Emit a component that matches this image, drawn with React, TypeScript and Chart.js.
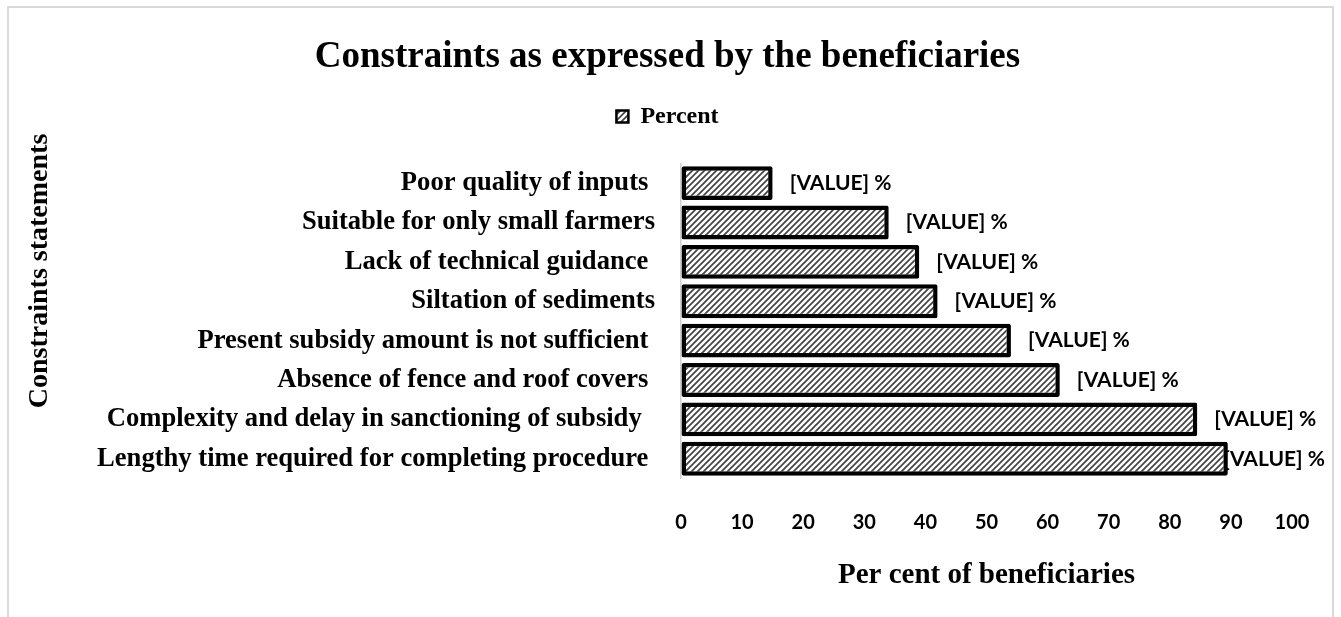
import React, { useEffect, useRef } from 'react';
import { Chart, registerables } from 'chart.js';

Chart.register(...registerables);

const categories: string[] = [
  'Poor quality of inputs ',
  'Suitable for only small farmers',
  'Lack of technical guidance ',
  'Siltation of sediments',
  'Present subsidy amount is not sufficient ',
  'Absence of fence and roof covers ',
  'Complexity and delay in sanctioning of subsidy  ',
  'Lengthy time required for completing procedure ',
];
const percentValues: number[] = [15, 34, 39, 42, 54, 62, 84.5, 89.5];
const seriesLabel = 'Percent';
const dataLabelText = '[VALUE] %';
const chartTitle = 'Constraints as expressed by the beneficiaries';
const xAxisTitle = 'Per cent of beneficiaries';
const yAxisTitle = 'Constraints statements';
const xMin = 0;
const xMax = 100;
const xStep = 10;

const SERIF = "'Liberation Serif', 'Times New Roman', serif";
const SANS = "Lato, 'Open Sans', sans-serif";

function makeHatch(): CanvasPattern | string {
  const c = document.createElement('canvas');
  c.width = 6;
  c.height = 6;
  const g = c.getContext('2d');
  if (!g) return '#888';
  g.fillStyle = '#ffffff';
  g.fillRect(0, 0, 6, 6);
  g.strokeStyle = '#444444';
  g.lineWidth = 1.7;
  g.beginPath();
  g.moveTo(-1, 7);
  g.lineTo(7, -1);
  g.moveTo(-1, 1);
  g.lineTo(1, -1);
  g.moveTo(5, 7);
  g.lineTo(7, 5);
  g.stroke();
  const p = g.createPattern(c, 'repeat');
  return p || '#888';
}

const dataLabelPlugin = {
  id: 'dataLabelPlugin',
  afterDatasetsDraw(chart: any) {
    const ctx = chart.ctx;
    const meta = chart.getDatasetMeta(0);
    ctx.save();
    ctx.font = `bold 21px ${SANS}`;
    ctx.fillStyle = '#000';
    ctx.textAlign = 'left';
    ctx.textBaseline = 'middle';
    const w = ctx.measureText(dataLabelText).width;
    meta.data.forEach((bar: any) => {
      let x = bar.x + 17;
      const limit = chart.width - 7;
      if (x + w > limit) x = limit - w;
      ctx.fillText(dataLabelText, x, bar.y);
    });
    ctx.restore();
  },
};

const yTitlePlugin = {
  id: 'yTitlePlugin',
  afterDraw(chart: any) {
    const ctx = chart.ctx;
    const area = chart.chartArea;
    ctx.save();
    ctx.translate(31, (area.top + area.bottom) / 2 - 50);
    ctx.rotate(-Math.PI / 2);
    ctx.font = `bold 28px ${SERIF}`;
    ctx.fillStyle = '#000';
    ctx.textAlign = 'center';
    ctx.textBaseline = 'middle';
    ctx.fillText(yAxisTitle, 0, 0);
    ctx.restore();
  },
};

export default function App() {
  const ref = useRef<HTMLCanvasElement | null>(null);

  useEffect(() => {
    if (!ref.current) return;
    const hatch = makeHatch();
    Chart.defaults.color = '#000';
    const chart = new Chart(ref.current, {
      type: 'bar',
      data: {
        labels: categories,
        datasets: [
          {
            label: seriesLabel,
            data: percentValues,
            backgroundColor: hatch as any,
            borderColor: '#000',
            borderWidth: 4.5,
            borderRadius: 2,
            borderSkipped: false,
            categoryPercentage: 1,
            barPercentage: 0.86,
          },
        ],
      },
      options: {
        indexAxis: 'y',
        animation: false,
        responsive: false,
        devicePixelRatio: 1,
        layout: { padding: { left: 34, right: 40, top: 0, bottom: 0 } },
        plugins: {
          title: {
            display: true,
            text: chartTitle,
            color: '#000',
            font: { family: SERIF, size: 37, weight: 'bold' },
            padding: { top: 27, bottom: 15 },
          },
          legend: {
            display: true,
            position: 'top',
            labels: {
              color: '#000',
              font: { family: SERIF, size: 24, weight: 'bold' },
              boxWidth: 12,
              boxHeight: 12,
              padding: 10,
              generateLabels: () => [
                {
                  text: seriesLabel,
                  fillStyle: hatch,
                  strokeStyle: '#000',
                  lineWidth: 2.5,
                  datasetIndex: 0,
                  hidden: false,
                },
              ],
            },
          },
          subtitle: {
            display: true,
            text: ' ',
            weight: 500,
            font: { size: 10, lineHeight: 1 },
            padding: { top: 15, bottom: 0 },
          } as any,
          tooltip: { enabled: false },
        },
        scales: {
          x: {
            min: xMin,
            max: xMax,
            ticks: {
              stepSize: xStep,
              color: '#000',
              padding: 0,
              maxRotation: 0,
              minRotation: 0,
              font: { family: SANS, size: 20, weight: 'bold' },
            },
            grid: {
              display: true,
              drawOnChartArea: false,
              drawTicks: true,
              tickLength: 32.5,
              color: 'rgba(0,0,0,0)',
            },
            border: { display: false },
            title: {
              display: true,
              text: xAxisTitle,
              color: '#000',
              font: { family: SERIF, size: 29, weight: 'bold' },
              padding: { top: 23.6, bottom: 23.6 },
            },
            afterFit: (scale: any) => {
              scale.height = 138.5;
            },
          },
          y: {
            ticks: {
              color: '#000',
              padding: 26,
              font: { family: SERIF, size: 26.6, weight: 'bold' },
            },
            grid: { display: false, drawTicks: false },
            border: { display: true, color: '#d0d0d0', width: 1.5 },
            afterFit: (scale: any) => {
              scale.width = 638;
            },
          },
        },
      },
      plugins: [dataLabelPlugin, yTitlePlugin],
    });
    return () => chart.destroy();
  }, []);

  return (
    <div
      style={{
        position: 'absolute',
        left: 7,
        top: 6,
        width: 1327,
        height: 611,
        border: '2px solid #d9d9d9',
        borderBottom: 'none',
        boxSizing: 'border-box',
        background: '#fff',
      }}
    >
      <canvas ref={ref} width={1323} height={609} style={{ display: 'block' }} />
    </div>
  );
}
